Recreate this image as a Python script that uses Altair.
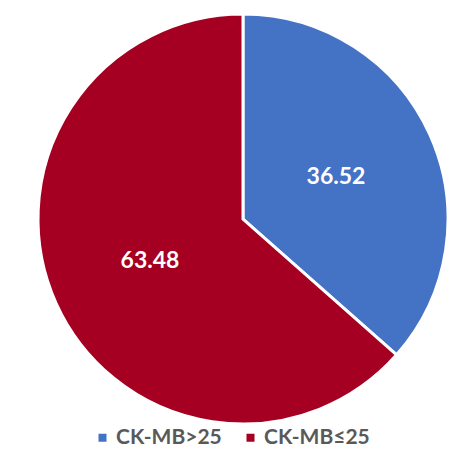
import altair as alt
import pandas as pd

categories = ["CK-MB>25", "CK-MB≤25"]
values = [36.52, 63.48]
labels = ["36.52", "63.48"]
order = [0, 1]
colors = ["#4472C4", "#A50021"]

df = pd.DataFrame({"cat": categories, "value": values, "label": labels, "order": order})

base = alt.Chart(df).encode(
    theta=alt.Theta("value:Q", stack=True),
    order=alt.Order("order:Q"),
)

arc = base.mark_arc(outerRadius=205, stroke="white", strokeWidth=3).encode(
    color=alt.Color(
        "cat:N",
        scale=alt.Scale(domain=categories, range=colors),
        sort=categories,
        legend=alt.Legend(
            title=None,
            orient="none",
            legendX=54,
            legendY=413,
            direction="horizontal",
            symbolType="square",
            symbolSize=64,
            symbolStrokeWidth=0,
            labelFont="Lato",
            labelFontSize=21,
            labelFontWeight="bold",
            labelColor="#595959",
            labelOffset=3,
            columnPadding=18,
            padding=0,
        ),
    )
)

text = base.mark_text(
    radius=102, font="Lato", fontSize=23, fontWeight="bold", color="white"
).encode(text="label:N")

chart = (arc + text).properties(
    width=410,
    height=410,
    autosize=alt.AutoSizeParams(type="none"),
    padding={"left": 30, "top": 6, "right": 0, "bottom": 26},
).configure_view(stroke=None)

chart.save("out.html", embed_options={"renderer": "svg", "actions": False})
